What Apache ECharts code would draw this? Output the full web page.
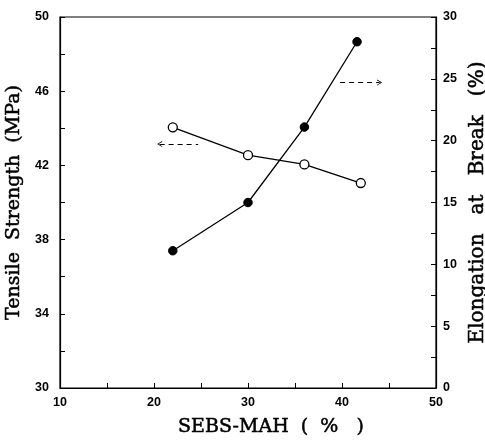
<!DOCTYPE html>
<html><head><meta charset="utf-8">
<script src="https://cdn.jsdelivr.net/npm/echarts@6/dist/echarts.min.js"></script>
<style>html,body{margin:0;padding:0;background:#fff}#c{width:485px;height:445px}</style>
</head><body><div id="c"></div>
<script>
const sebsMah = [22, 30, 36, 42];
const tensileStrength = [44.05, 42.55, 42.05, 41.05];
const elongationX = [22, 30, 36, 41.6];
const elongation = [11.1, 15.0, 21.1, 28.0];
const xTickLabels = [10, 20, 30, 40, 50];
const leftTickLabels = [30, 34, 38, 42, 46, 50];
const rightTickLabels = [0, 5, 10, 15, 20, 25, 30];

const chevron = 'path://M0,10 L5,0 L10,10 L8.6,10 L5,2.8 L1.4,10 Z';
const axisTxt = {color:'#000', fontFamily:'Liberation Sans', fontWeight:'bold', fontSize:12.5};
const nameTxt = {color:'#000', fontFamily:'DejaVu Serif', fontSize:19, textBorderColor:'#000', textBorderWidth:0.5};
const chart = echarts.init(document.getElementById('c'));
chart.setOption({
  animation:false,
  backgroundColor:'#fff',
  grid:{left:60, right:49, top:17, bottom:57, outerBoundsMode:'none', containLabel:false,
    show:true, borderColor:'#000', borderWidth:1.2},
  xAxis:{type:'value', min:10, max:50, interval:5,
    name:'SEBS-MAH  (  %   )', nameLocation:'middle', nameGap:30,
    nameTextStyle:Object.assign({}, nameTxt, {padding:[0,0,0,46]}),
    axisLine:{lineStyle:{color:'#000', width:1.2}},
    axisTick:{inside:true, length:5, lineStyle:{color:'#000'}},
    splitLine:{show:false},
    axisLabel:Object.assign({}, axisTxt, {margin:8, formatter:v=>xTickLabels.includes(v)?String(v):''})},
  yAxis:[
    {type:'value', min:30, max:50, interval:2, position:'left',
      name:'Tensile  Strength  (MPa)', nameLocation:'middle', nameGap:33, nameTextStyle:nameTxt,
      axisLine:{show:true, lineStyle:{color:'#000', width:1.2}},
      axisTick:{show:true, inside:true, length:5, lineStyle:{color:'#000'}},
      splitLine:{show:false},
      axisLabel:Object.assign({}, axisTxt, {margin:11, formatter:v=>leftTickLabels.includes(v)?String(v):''})},
    {type:'value', min:0, max:30, interval:2.5, position:'right',
      name:'Elongation   at   Break   (%)', nameLocation:'middle', nameGap:31,
      nameTextStyle:Object.assign({}, nameTxt, {fontSize:20}),
      axisLine:{show:true, lineStyle:{color:'#000', width:1.2}},
      axisTick:{show:true, inside:true, length:5, lineStyle:{color:'#000'}},
      splitLine:{show:false},
      axisLabel:Object.assign({}, axisTxt, {margin:7, formatter:v=>rightTickLabels.includes(v)?String(v):''})}
  ],
  series:[
    {type:'line', yAxisIndex:0, data:sebsMah.map((x,i)=>[x, tensileStrength[i]]),
      symbol:'circle', symbolSize:9, lineStyle:{color:'#000', width:1.3},
      itemStyle:{color:'#fff', borderColor:'#000', borderWidth:1.3},
      markLine:{silent:true, symbol:[chevron,'none'], symbolSize:[6,5], label:{show:false},
        lineStyle:{color:'#000', type:[5,4], width:1.2},
        data:[[{coord:[20.6,43.15]},{coord:[24.7,43.15]}]]}},
    {type:'line', yAxisIndex:1, data:elongationX.map((x,i)=>[x, elongation[i]]),
      symbol:'circle', symbolSize:8.5, lineStyle:{color:'#000', width:1.3},
      itemStyle:{color:'#000', borderColor:'#000'},
      markLine:{silent:true, symbol:['none',chevron], symbolSize:[6,5], label:{show:false},
        lineStyle:{color:'#000', type:[5,4], width:1.2},
        data:[[{coord:[39.8,24.7]},{coord:[44.0,24.7]}]]}}
  ]
});
</script></body></html>
